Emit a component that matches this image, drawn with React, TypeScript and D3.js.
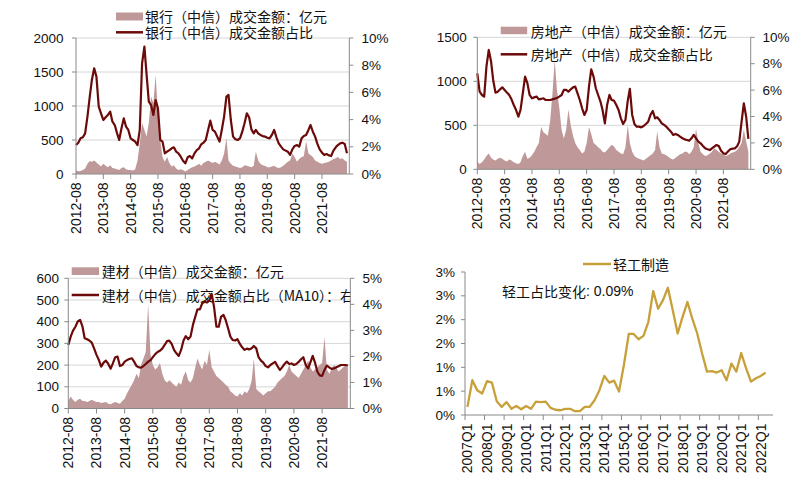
import React from "react";
import * as d3 from "d3";

// ---------- time axis (monthly, 2012-08 .. 2022-07) ----------
const START = new Date(2012, 7, 1);
const END = new Date(2022, 7, 1);
const months: Date[] = d3.range(120).map((i) => new Date(2012, 7 + i, 1));
const yearTicks: Date[] = d3.range(10).map((i) => new Date(2012 + i, 7, 1));
const yearTickLabels = ["2012-08", "2013-08", "2014-08", "2015-08", "2016-08", "2017-08", "2018-08", "2019-08", "2020-08", "2021-08"];

// ---------- 银行 ----------
const bankAmount = [
  50, 40, 45, 60, 80, 150, 190, 180, 200, 170,
  140, 110, 150, 120, 100, 130, 90, 80, 70, 60,
  90, 100, 70, 60, 60, 50, 70, 200, 450, 750,
  650, 550, 750, 1140, 1040, 1460, 890, 500, 250, 180,
  250, 160, 110, 130, 80, 60, 70, 60, 35, 60,
  80, 100, 110, 130, 150, 120, 160, 180, 200, 180,
  160, 180, 160, 140, 200, 300, 530, 200, 150, 120,
  110, 100, 90, 100, 130, 120, 110, 100, 120, 330,
  200, 150, 130, 120, 100, 100, 110, 120, 100, 90,
  100, 120, 150, 180, 200, 300, 250, 180, 220, 250,
  260, 480, 300, 280, 250, 200, 180, 160, 150, 160,
  170, 180, 200, 220, 230, 250, 220, 230, 200, 180,
];
const bankShare = [
  2.13, 2.3, 2.62, 2.7, 2.99, 4.22, 5.69, 6.91, 7.77, 7.16,
  4.95, 4.46, 3.97, 4.17, 4.34, 4.58, 3.85, 3.6, 2.99, 2.5,
  3.36, 4.09, 3.48, 3.24, 2.62, 2.5, 2.38, 2.13, 3.24, 8.14,
  9.36, 7.4, 5.32, 5.07, 4.34, 5.44, 4.83, 2.5, 2.38, 1.52,
  1.64, 1.76, 1.89, 1.96, 1.64, 1.52, 1.27, 0.98, 0.78, 1.23,
  1.32, 1.15, 1.52, 1.76, 1.89, 2.18, 2.3, 2.5, 3.24, 3.92,
  3.24, 3.11, 2.75, 2.38, 3.24, 4.22, 5.69, 5.81, 3.97, 2.75,
  2.55, 2.5, 2.62, 3.11, 3.73, 4.46, 4.17, 3.28, 2.99, 3.24,
  2.99, 2.87, 2.79, 2.75, 2.67, 2.62, 2.87, 3.24, 2.7, 2.25,
  2.01, 1.81, 1.72, 1.64, 1.4, 1.81, 2.06, 2.13, 2.01, 2.62,
  2.79, 2.87, 3.24, 3.6, 3.11, 2.75, 2.21, 1.81, 1.57, 1.4,
  1.47, 1.37, 1.32, 1.72, 1.96, 2.13, 2.25, 2.3, 2.21, 1.52,
];

// ---------- 房地产 ----------
const reAmount = [
  90, 60, 80, 110, 150, 180, 130, 110, 100, 120,
  130, 120, 100, 90, 110, 100, 80, 70, 60, 80,
  150, 200, 120, 130, 160, 200, 250, 300, 480, 420,
  400, 380, 550, 850, 1240, 900, 700, 450, 350, 450,
  680, 500, 380, 300, 250, 220, 180, 200, 300, 480,
  400, 300, 280, 250, 230, 200, 190, 220, 250, 280,
  260, 220, 200, 180, 170, 250, 500, 300, 200, 150,
  130, 120, 110, 100, 120, 140, 160, 180, 220, 430,
  250, 180, 170, 160, 140, 120, 110, 130, 150, 170,
  180, 200, 200, 170, 200, 250, 460, 300, 200, 170,
  150, 160, 180, 200, 240, 220, 200, 180, 170, 150,
  160, 180, 190, 200, 220, 250, 300, 450, 320, 200,
];
const reShare = [
  7.27, 5.88, 5.63, 5.51, 7.78, 9.04, 8.16, 6.77, 5.81, 5.88,
  6.06, 6.21, 6.01, 5.81, 5.63, 5.3, 4.87, 4.49, 3.99, 4.49,
  5.76, 7.02, 6.52, 5.63, 5.38, 5.45, 5.51, 5.3, 5.33, 5.38,
  5.25, 5.25, 5.25, 5.3, 5.35, 5.4, 5.51, 5.63, 6.01, 6.01,
  5.88, 6.06, 6.21, 6.26, 5.76, 5.25, 4.62, 4.12, 4.49, 6.26,
  7.58, 7.02, 6.14, 5.63, 5.13, 4.49, 3.48, 4.87, 5.63, 5.25,
  5.2, 4.87, 4.49, 3.86, 3.43, 3.74, 5.2, 6.1, 4.12, 3.43,
  3.23, 3.23, 3.18, 3.28, 3.43, 3.61, 4.12, 4.42, 3.86, 3.94,
  3.74, 3.48, 3.36, 3.23, 3.03, 2.85, 2.6, 2.68, 2.6, 2.47,
  2.35, 2.27, 2.22, 2.17, 2.35, 2.6, 2.35, 2.1, 1.97, 1.77,
  1.59, 1.52, 1.46, 1.59, 1.72, 1.84, 1.77, 1.41, 1.21, 1.16,
  1.34, 1.52, 1.57, 1.59, 1.75, 2.1, 3.6, 5.0, 4.0, 2.3,
];

// ---------- 建材 ----------
const bmAmount = [
  35, 55, 40, 30, 40, 45, 35, 35, 30, 35,
  40, 35, 30, 30, 25, 28, 30, 22, 20, 25,
  30, 25, 22, 35, 45, 70, 90, 110, 130, 160,
  140, 200, 230, 260, 480, 250, 200, 180, 190, 210,
  160, 130, 120, 130, 120, 110, 100, 120, 110, 150,
  170, 130, 120, 140, 190, 230, 200, 180, 220, 200,
  270, 190, 170, 150, 140, 130, 120, 110, 100, 80,
  70, 60, 55, 70, 60, 80, 70, 90, 130, 230,
  90, 80, 70, 60, 70, 80, 80, 90, 100, 120,
  130, 140, 150, 170, 200, 170, 160, 150, 140, 160,
  180, 200, 220, 190, 170, 180, 190, 200, 210, 330,
  180, 160, 180, 200, 190, 170, 180, 190, 200, 190,
];
const bmShareMA10 = [
  2.44, 2.76, 2.99, 3.14, 3.34, 3.4, 3.14, 2.7, 2.66, 2.61,
  2.53, 2.31, 2.06, 1.86, 1.61, 1.76, 1.84, 1.71, 1.53, 1.73,
  1.97, 1.99, 1.63, 1.67, 1.8, 1.86, 1.9, 1.93, 1.8, 1.63,
  1.58, 1.57, 1.63, 1.71, 1.8, 1.85, 1.97, 2.09, 2.17, 2.22,
  2.3, 2.44, 2.59, 2.61, 2.48, 2.25, 2.12, 2.02, 2.25, 2.61,
  2.78, 2.66, 2.76, 3.21, 3.53, 3.81, 3.81, 4.04, 4.1, 4.07,
  4.14, 4.4, 3.91, 3.14, 3.14, 3.53, 3.59, 3.4, 3.08, 2.76,
  2.63, 2.61, 2.66, 2.48, 2.35, 2.25, 2.3, 2.27, 2.31, 2.4,
  2.31, 1.97, 1.84, 1.76, 1.63, 1.58, 1.67, 1.73, 1.79, 1.63,
  1.48, 1.58, 1.71, 1.8, 1.71, 1.73, 1.67, 1.71, 1.79, 1.89,
  1.97, 1.67, 1.54, 1.76, 2.02, 1.76, 1.41, 1.27, 1.25, 1.48,
  1.65, 1.58, 1.52, 1.54, 1.58, 1.62, 1.67, 1.67, 1.67, 1.65,
];

// ---------- 轻工制造 (quarterly 2007Q1 .. 2022Q2) ----------
const quarterCount = 63;
const quarterTickLabels = ["2007Q1", "2008Q1", "2009Q1", "2010Q1", "2011Q1", "2012Q1", "2013Q1", "2014Q1", "2015Q1", "2016Q1", "2017Q1", "2018Q1", "2019Q1", "2020Q1", "2021Q1", "2022Q1"];
const lightShare = [
  0.17, 0.73, 0.52, 0.45, 0.71, 0.68, 0.29, 0.17, 0.27, 0.13,
  0.19, 0.12, 0.19, 0.13, 0.28, 0.27, 0.28, 0.15, 0.11, 0.1,
  0.13, 0.13, 0.08, 0.08, 0.17, 0.17, 0.31, 0.52, 0.82, 0.68,
  0.72, 0.49, 1.05, 1.7, 1.7, 1.59, 1.66, 1.95, 2.6, 2.23,
  2.41, 2.67, 2.2, 1.71, 2.06, 2.37, 2.02, 1.71, 1.29, 0.91,
  0.92, 0.89, 0.94, 0.73, 1.08, 0.91, 1.3, 0.98, 0.7, 0.77,
  0.82, 0.89,
];
const lightTicks = [0, 0.5, 1, 1.5, 2, 2.5, 3];
const lightTickLabels = ["0%", "1%", "1%", "2%", "2%", "3%", "3%"];

// ---------- styles ----------
const LINE_COLOR = "#6C0A0A";
const AREA_COLOR = "#BF9999";
const AXIS_COLOR = "#8A8A8A";
const GRID_COLOR = "#D6D6D6";
const GOLD = "#C8A03A";
const NUM_FONT = "'Liberation Sans', Arial, sans-serif";
const CJK_FONT = "'Noto Sans CJK SC', 'Liberation Sans', sans-serif";

type Legend = {
  sx: number; sy: number; sw: number; sh: number; t1y: number; t1: string;
  ly: number; t2y: number; t2: string; tx: number;
};

type PanelProps = {
  id: string;
  x0: number; x1: number; yTop: number; yBot: number;
  leftMax: number; leftTicks: number[]; leftLabelX: number;
  rightMax: number; rightTicks: number[]; rightLabelX: number;
  amount: number[]; share: number[];
  legend: Legend; clipRight?: number;
};

function Panel(p: PanelProps) {
  const x = d3.scaleTime().domain([START, END]).range([p.x0, p.x1]);
  const yL = d3.scaleLinear().domain([0, p.leftMax]).range([p.yBot, p.yTop]);
  const yR = d3.scaleLinear().domain([0, p.rightMax]).range([p.yBot, p.yTop]);
  const areaGen = d3.area<number>().x((_, i) => x(months[i])).y0(yL(0)).y1((d) => yL(d));
  const lineGen = d3.line<number>().x((_, i) => x(months[i])).y((d) => yR(d));
  const L = p.legend;
  return (
    <g>
      {p.clipRight !== undefined && (
        <defs>
          <clipPath id={p.id + "clip"}>
            <rect x={0} y={0} width={p.clipRight} height={484} />
          </clipPath>
        </defs>
      )}
      {p.leftTicks.slice(1).map((t) => (
        <line key={t} x1={p.x0} x2={p.x1} y1={yL(t)} y2={yL(t)} stroke={GRID_COLOR} strokeWidth={1} />
      ))}
      <path d={areaGen(p.amount) || ""} fill={AREA_COLOR} />
      <g fontFamily={CJK_FONT} fontSize={14} fill="#111" clipPath={p.clipRight !== undefined ? `url(#${p.id}clip)` : undefined}>
        <rect x={L.sx} y={L.sy} width={L.sw} height={L.sh} fill={AREA_COLOR} />
        <text x={L.tx} y={L.t1y} dominantBaseline="central">{L.t1}</text>
        <line x1={L.sx} x2={L.sx + L.sw} y1={L.ly} y2={L.ly} stroke={LINE_COLOR} strokeWidth={2.5} />
        <text x={L.tx} y={L.t2y} dominantBaseline="central">{L.t2}</text>
      </g>
      <path d={lineGen(p.share) || ""} fill="none" stroke={LINE_COLOR} strokeWidth={2.2} strokeLinejoin="round" />
      {/* left axis */}
      <line x1={p.x0} x2={p.x0} y1={p.yTop} y2={p.yBot} stroke={AXIS_COLOR} />
      {p.leftTicks.map((t) => (
        <g key={t}>
          <line x1={p.x0 - 4} x2={p.x0} y1={yL(t)} y2={yL(t)} stroke={AXIS_COLOR} />
          <text x={p.leftLabelX} y={yL(t)} textAnchor="end" dominantBaseline="central" fontFamily={NUM_FONT} fontSize={13.5} fill="#111">{t}</text>
        </g>
      ))}
      {/* right axis */}
      <line x1={p.x1} x2={p.x1} y1={p.yTop} y2={p.yBot} stroke={AXIS_COLOR} />
      {p.rightTicks.map((t) => (
        <g key={t}>
          <line x1={p.x1} x2={p.x1 + 4} y1={yR(t)} y2={yR(t)} stroke={AXIS_COLOR} />
          <text x={p.rightLabelX} y={yR(t)} textAnchor="start" dominantBaseline="central" fontFamily={NUM_FONT} fontSize={13.5} fill="#111">{t + "%"}</text>
        </g>
      ))}
      {/* bottom axis */}
      <line x1={p.x0} x2={p.x1} y1={p.yBot} y2={p.yBot} stroke={AXIS_COLOR} />
      {yearTicks.map((t, i) => (
        <g key={i}>
          <line x1={x(t)} x2={x(t)} y1={p.yBot} y2={p.yBot + 5} stroke={AXIS_COLOR} />
          <text transform={`translate(${x(t)},${p.yBot + 8.5}) rotate(-90)`} textAnchor="end" dominantBaseline="central" fontFamily={NUM_FONT} fontSize={14} fill="#111">{yearTickLabels[i]}</text>
        </g>
      ))}
    </g>
  );
}

function LightPanel() {
  const xb = d3.scaleBand<number>().domain(d3.range(quarterCount)).range([465, 773]);
  const bw = xb.bandwidth();
  const y = d3.scaleLinear().domain([0, 3]).range([415, 272]);
  const lineGen = d3.line<number>().x((_, i) => (xb(i) as number) + bw / 2).y((d) => y(d));
  return (
    <g>
      <path d={lineGen(lightShare) || ""} fill="none" stroke={GOLD} strokeWidth={2.3} strokeLinejoin="round" />
      <line x1={465} x2={465} y1={272} y2={415} stroke={AXIS_COLOR} />
      {lightTicks.map((t, i) => (
        <g key={t}>
          <line x1={461} x2={465} y1={y(t)} y2={y(t)} stroke={AXIS_COLOR} />
          <text x={455} y={y(t)} textAnchor="end" dominantBaseline="central" fontFamily={NUM_FONT} fontSize={13.5} fill="#111">{lightTickLabels[i]}</text>
        </g>
      ))}
      <line x1={465} x2={773} y1={415} y2={415} stroke={AXIS_COLOR} />
      {quarterTickLabels.map((lab, k) => {
        const tx = xb(k * 4) as number;
        return (
          <g key={lab}>
            <line x1={tx} x2={tx} y1={415} y2={420} stroke={AXIS_COLOR} />
            <text transform={`translate(${tx + bw / 2},${423.5}) rotate(-90)`} textAnchor="end" dominantBaseline="central" fontFamily={NUM_FONT} fontSize={14} fill="#111">{lab}</text>
          </g>
        );
      })}
      <line x1={583} x2={611} y1={264} y2={264} stroke={GOLD} strokeWidth={2.5} />
      <text x={613} y={263.5} dominantBaseline="central" fontFamily={CJK_FONT} fontSize={14} fill="#111">轻工制造</text>
      <text x={502} y={290.5} dominantBaseline="central" fontFamily={CJK_FONT} fontSize={14} fill="#111">轻工占比变化<tspan fontFamily={NUM_FONT}>: 0.09%</tspan></text>
    </g>
  );
}

export default function App() {
  return (
    <svg width={797} height={484} style={{ position: "absolute", left: 0, top: 0, background: "#fff" }}>
      <rect x={0} y={0} width={797} height={484} fill="#fff" />
      <Panel
        id="bank" x0={76} x1={349.3} yTop={38} yBot={174}
        leftMax={2000} leftTicks={[0, 500, 1000, 1500, 2000]} leftLabelX={63.5}
        rightMax={10} rightTicks={[0, 2, 4, 6, 8, 10]} rightLabelX={361.5}
        amount={bankAmount} share={bankShare}
        legend={{ sx: 116, sy: 12.5, sw: 27, sh: 8, tx: 145, t1y: 16.3, t1: "银行（中信）成交金额：亿元", ly: 32.3, t2y: 32.3, t2: "银行（中信）成交金额占比" }}
      />
      <Panel
        id="re" x0={477.3} x1={750.7} yTop={37.3} yBot={169.3}
        leftMax={1500} leftTicks={[0, 500, 1000, 1500]} leftLabelX={466.7}
        rightMax={10} rightTicks={[0, 2, 4, 6, 8, 10]} rightLabelX={762.5}
        amount={reAmount} share={reShare}
        legend={{ sx: 500.7, sy: 26.7, sw: 26.5, sh: 7.5, tx: 530.7, t1y: 30.5, t1: "房地产（中信）成交金额：亿元", ly: 54.3, t2y: 54.3, t2: "房地产（中信）成交金额占比" }}
      />
      <Panel
        id="bm" x0={68.3} x1={350.3} yTop={278.3} yBot={408.5}
        leftMax={600} leftTicks={[0, 100, 200, 300, 400, 500, 600]} leftLabelX={59}
        rightMax={5} rightTicks={[0, 1, 2, 3, 4, 5]} rightLabelX={362.5}
        amount={bmAmount} share={bmShareMA10}
        clipRight={351}
        legend={{ sx: 71.7, sy: 267.3, sw: 27.3, sh: 7.7, tx: 101.7, t1y: 271, t1: "建材（中信）成交金额：亿元", ly: 295, t2y: 295, t2: "建材（中信）成交金额占比（MA10）：右" }}
      />
      <LightPanel />
    </svg>
  );
}
